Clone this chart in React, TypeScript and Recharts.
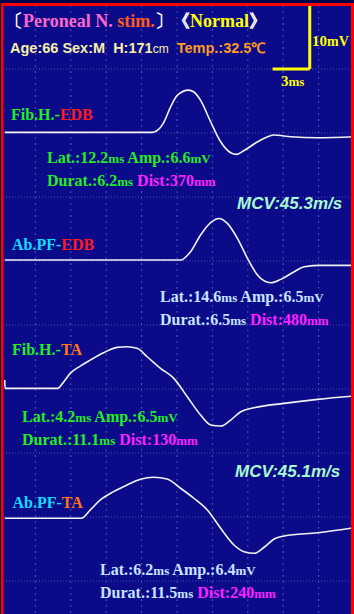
import React from "react";
import { CartesianGrid, Line, LineChart, ReferenceLine, XAxis, YAxis } from "recharts";

// time axis in ms (3 ms per division), amplitude in mV (10 mV per division)
const TIME_MIN = -0.7;
const TIME_MAX = 29.3;
const VOLT_MIN = -100;
const VOLT_MAX = 0;
const gridTimes = [2.3, 5.3, 8.3, 11.3, 14.3, 17.3, 20.3, 23.3, 26.3];
const gridVolts = [-10, -20, -30, -40, -50, -60, -70, -80, -90];

// baseline of each trace on the stacked display
const baselines = [-19.9, -39.85, -59.9, -80.2];

// Fib.H. - EDB
const fibEdbTime = [-0.3, 12.2, 13.15, 13.75, 14.34, 15.28, 15.7, 16.3, 17.15, 18.0, 18.85, 19.36, 19.95, 21.14, 21.99, 22.5, 23.95, 26.24, 29.3];
const fibEdbVolt = [0, 0, 1.45, 3.95, 5.83, 6.6, 6.34, 5.0, 1.66, -1.47, -3.19, -3.44, -2.88, -1.47, -0.69, -0.42, -0.69, -0.84, -0.69];

// Ab.PF - EDB
const abEdbTime = [-0.3, 14.6, 15.45, 16.3, 17.15, 17.85, 18.57, 19.42, 20.27, 21.12, 21.97, 22.25, 23.1, 24.23, 25.08, 26.5, 29.3];
const abEdbVolt = [0, 0, 1.3, 3.9, 5.83, 6.5, 5.73, 3.39, 0.27, -2.34, -3.48, -3.55, -3.02, -1.83, -1.05, -0.83, -0.83];

// Fib.H. - TA (small stimulus artefact at the start)
const fibTaTime = [-0.3, -0.27, 4.2, 4.6, 5.25, 6.1, 6.95, 8.08, 9.22, 10.07, 10.92, 11.77, 12.9, 14.03, 15.17, 16.3, 17.15, 18.0, 18.85, 19.7, 20.83, 23.38, 26.21, 29.3];
const fibTaVolt = [1.3, 0, 0, 0.78, 2.34, 3.48, 4.42, 5.56, 6.4, 6.5, 6.25, 4.94, 3.13, 1.56, -1.31, -4.17, -5.73, -5.89, -4.95, -3.66, -3.03, -2.34, -1.72, -1.2];

// Ab.PF - TA
const abTaTime = [-0.3, 6.2, 6.95, 7.8, 8.93, 10.07, 11.2, 12.33, 13.47, 14.6, 15.73, 16.87, 18.0, 19.13, 19.98, 20.83, 21.68, 22.53, 23.38, 26.21, 29.3];
const abTaVolt = [0, 0, 1.3, 2.86, 4.16, 5.2, 6.09, 6.4, 6.14, 4.69, 3.13, 1.3, -1.56, -4.17, -5.22, -5.47, -4.53, -3.23, -2.77, -2.25, -1.47];

type Pt = { t: number; v: number };
const zip = (ts: number[], vs: number[], base: number): Pt[] =>
  ts.map((t, i) => ({ t, v: vs[i] + base }));

const traces = [
  zip(fibEdbTime, fibEdbVolt, baselines[0]),
  zip(abEdbTime, abEdbVolt, baselines[1]),
  zip(fibTaTime, fibTaVolt, baselines[2]),
  zip(abTaTime, abTaVolt, baselines[3]),
];

const SERIF = "'Liberation Serif', 'Times New Roman', serif";
const SANS = "'Liberation Sans', Arial, sans-serif";

const GREEN = "#22ee22";
const CYAN = "#11ddff";
const RED = "#ff1a1a";
const ORANGE = "#ff7418";
const MAGENTA = "#ff22ff";
const PALE_BLUE = "#c8e4ff";
const MCV = "#a8f8d0";
const YELLOW = "#ffff00";

function Measure({ x, y, color, lat, amp, dur, dist }: {
  x: number; y: number; color: string; lat: string; amp: string; dur: string; dist: string;
}) {
  return (
    <g fontFamily={SERIF} fontWeight="bold">
      <text x={x} y={y} fill={color} fontSize={16}>
        Lat.:{lat}<tspan fontSize={13}>ms</tspan> Amp.:{amp}<tspan fontSize={13}>mV</tspan>
      </text>
      <text x={x} y={y + 23} fill={color} fontSize={16}>
        Durat.:{dur}<tspan fontSize={13}>ms</tspan>{" "}
        <tspan fill={MAGENTA}>Dist:{dist}<tspan fontSize={13}>mm</tspan></tspan>
      </text>
    </g>
  );
}

function Site({ x, y, site, muscle, siteColor, muscleColor }: {
  x: number; y: number; site: string; muscle: string; siteColor: string; muscleColor: string;
}) {
  return (
    <text x={x} y={y} fontFamily={SERIF} fontWeight="bold" fontSize={16}>
      <tspan fill={siteColor}>{site}</tspan>
      <tspan fill={muscleColor}>{muscle}</tspan>
    </text>
  );
}

export default function App() {
  return (
    <div style={{ position: "fixed", left: 0, top: 0, width: 354, height: 614, overflow: "hidden", background: "#0b0b8a" }}>
      <LineChart width={354} height={645} margin={{ top: 5, right: 0, bottom: 0, left: 0 }}>
        <XAxis type="number" dataKey="t" domain={[TIME_MIN, TIME_MAX]} ticks={gridTimes} allowDataOverflow hide />
        <YAxis type="number" domain={[VOLT_MIN, VOLT_MAX]} ticks={gridVolts} allowDataOverflow hide />
        <CartesianGrid horizontal={false} stroke="#6a6ac4" strokeOpacity={0.7} strokeDasharray="2 4" />
        <CartesianGrid vertical={false} stroke="#6a6ac4" strokeOpacity={0.7} strokeDasharray="1 2" />
        {traces.map((d, i) => (
          <Line
            key={i}
            data={d}
            dataKey="v"
            type="monotone"
            stroke="#f2f2f2"
            strokeWidth={1.6}
            dot={false}
            isAnimationActive={false}
          />
        ))}
        {/* calibration bar: 3 ms x 10 mV */}
        <ReferenceLine segment={[{ x: 22.4, y: -10 }, { x: 25.55, y: -10 }]} stroke={YELLOW} strokeWidth={3} />
        <ReferenceLine segment={[{ x: 25.55, y: 0 }, { x: 25.55, y: -10 }]} stroke={YELLOW} strokeWidth={3} />
      </LineChart>

      <svg width={354} height={614} style={{ position: "absolute", left: 0, top: 0 }}>
        {/* frame */}
        <rect x={0} y={0} width={354} height={3} fill="#00004a" />
        <rect x={0} y={0} width={1} height={614} fill="#00004a" />
        <rect x={1} y={3} width={353} height={3} fill="#ff0000" />
        <rect x={1} y={3} width={2.5} height={611} fill="#ff0000" />
        <rect x={351} y={3} width={3} height={611} fill="#ff0000" />

        <text x={5} y={27} fontFamily={SERIF} fontWeight="bold" fontSize={18}>
          <tspan fill="#ffffff">〔</tspan>
          <tspan fill="#ff66cc">Peroneal N. </tspan>
          <tspan fill="#ff5a1a">stim.</tspan>
          <tspan fill="#ffffff">〕</tspan>
        </text>
        <text x={172} y={27} fontFamily={SERIF} fontWeight="bold" fontSize={18}>
          <tspan fill="#ffffff">《</tspan>
          <tspan fill={YELLOW}>Normal</tspan>
          <tspan fill="#ffffff">》</tspan>
        </text>
        <text x={10} y={53} fontFamily={SANS} fontWeight="bold" fontSize={14.5} fill="#f6f0a4" xmlSpace="preserve">
          Age:66 Sex:M  H:171<tspan fontSize={12} fontWeight="normal">cm</tspan>
          <tspan fill="#ff9a1e">  Temp.:32.5℃</tspan>
        </text>
        <text x={312} y={46} fontFamily={SERIF} fontWeight="bold" fontSize={15} fill={YELLOW}>
          10<tspan fontSize={14}>mV</tspan>
        </text>
        <text x={281} y={86} fontFamily={SERIF} fontWeight="bold" fontSize={15} fill={YELLOW}>
          3<tspan fontSize={13}>ms</tspan>
        </text>

        <Site x={11} y={120} site="Fib.H.-" muscle="EDB" siteColor={GREEN} muscleColor={RED} />
        <Measure x={47} y={163} color={GREEN} lat="12.2" amp="6.6" dur="6.2" dist="370" />
        <text x={237} y={209} fontFamily={SANS} fontWeight="bold" fontStyle="italic" fontSize={17} fill={MCV}>
          MCV:45.3m/s
        </text>

        <Site x={12} y={250} site="Ab.PF-" muscle="EDB" siteColor={CYAN} muscleColor={RED} />
        <Measure x={160} y={302} color={PALE_BLUE} lat="14.6" amp="6.5" dur="6.5" dist="480" />

        <Site x={12} y={355} site="Fib.H.-" muscle="TA" siteColor={GREEN} muscleColor={ORANGE} />
        <Measure x={22} y={421.5} color={GREEN} lat="4.2" amp="6.5" dur="11.1" dist="130" />
        <text x={235} y={476.5} fontFamily={SANS} fontWeight="bold" fontStyle="italic" fontSize={17} fill={MCV}>
          MCV:45.1m/s
        </text>

        <Site x={12.5} y={507.5} site="Ab.PF-" muscle="TA" siteColor={CYAN} muscleColor={ORANGE} />
        <Measure x={100} y={575} color={PALE_BLUE} lat="6.2" amp="6.4" dur="11.5" dist="240" />
      </svg>
    </div>
  );
}
